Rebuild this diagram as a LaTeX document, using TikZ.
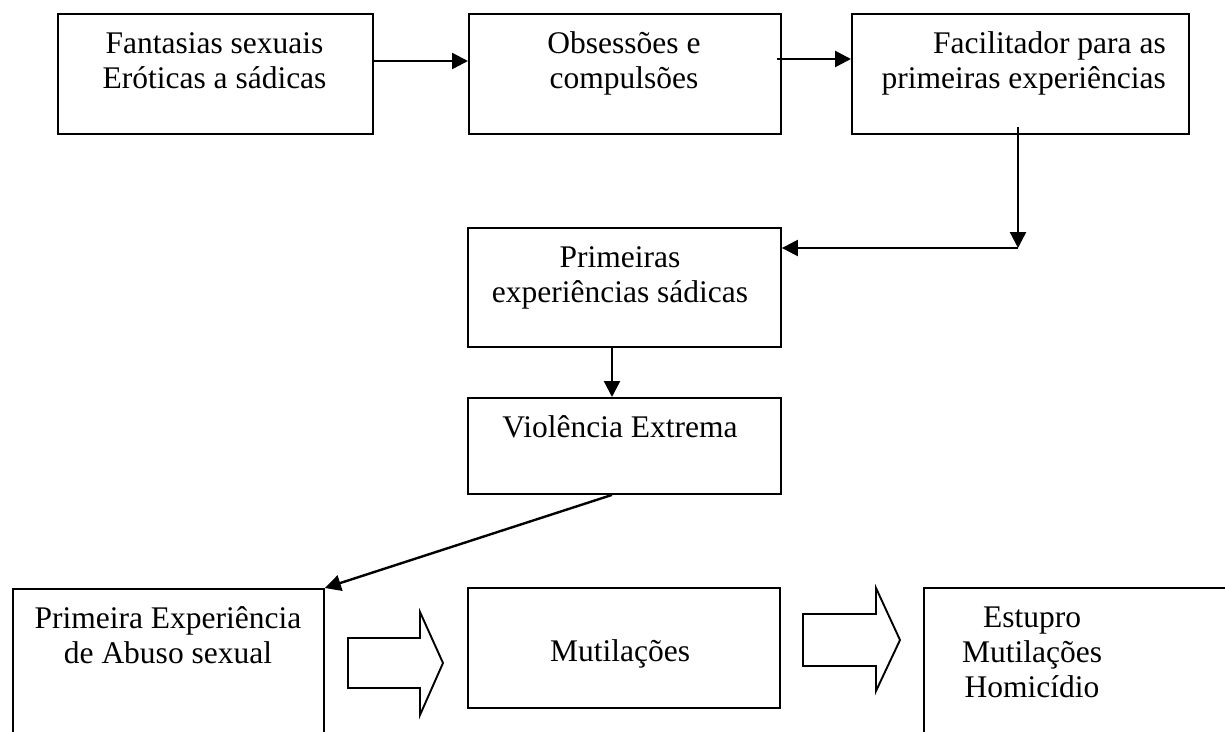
\documentclass[tikz,border=0pt]{standalone}
\usepackage{fontspec}
\setmainfont{Liberation Serif}
\usetikzlibrary{arrows.meta,calc}
\tikzset{
  box/.style={draw=black, line width=1.9pt, rectangle, inner sep=0pt, anchor=north west},
  txt/.style={inner sep=0pt, font=\fontsize{31.5}{35}\selectfont},
  arr/.style={line width=2.4pt, -{Triangle[length=16pt,width=16pt]}},
  blockarrow/.style={draw=black, line width=1.9pt, line join=miter, fill=white}
}
\newcommand{\lines}[2]{\begin{tabular}[t]{@{}#1@{}}#2\end{tabular}}
\begin{document}
\begin{tikzpicture}[x=1pt,y=-1pt]
\useasboundingbox (0,0) rectangle (1225,731);
\clip (0,0) rectangle (1225,731);
% boxes
\node[box, minimum width=315pt, minimum height=120pt] (b1) at (57,13) {};
\node[box, minimum width=312pt, minimum height=120pt] (b2) at (468,13) {};
\node[box, minimum width=337pt, minimum height=120pt] (b3) at (851,13) {};
\node[box, minimum width=313pt, minimum height=119pt] (b4) at (467,227) {};
\node[box, minimum width=313pt, minimum height=96pt] (b5) at (467,397) {};
\node[box, minimum width=311pt, minimum height=200pt] (b6) at (12,588) {};
\node[box, minimum width=312pt, minimum height=120pt] (b7) at (467,587) {};
\node[box, minimum width=340pt, minimum height=200pt] (b8) at (923,587) {};
% texts
\node[txt, anchor=base] (t1) at (214.5,53) {\lines{c}{Fantasias sexuais\\Eróticas a sádicas}};
\node[txt, anchor=base] (t2) at (624,53) {\lines{c}{Obsessões e\\compulsões}};
\node[txt, anchor=base east] (t3) at (1166,53) {\lines{r}{Facilitador para as\\primeiras experiências}};
\node[txt, anchor=base] (t4) at (620,267) {\lines{c}{Primeiras\\experiências sádicas}};
\node[txt, anchor=base] (t5) at (620,437) {Violência Extrema};
\node[txt, anchor=base] (t6) at (168,628) {\lines{c}{Primeira Experiência\\de Abuso sexual}};
\node[txt, anchor=base] (t7) at (620,661) {Mutilações};
\node[txt, anchor=base] (t8) at (1032,627) {\lines{c}{Estupro\\Mutilações\\Homicídio}};
% connectors
\draw[arr] (b1.east |- 0,61) -- (b2.west |- 0,61);
\coordinate (s2) at (777,59);
\draw[arr] (s2) -- (b3.west |- s2);
\coordinate (c1) at (1018,127);
\coordinate (c2) at (1018,248);
\draw[arr] (c1) -- (c2);
\draw[arr] (c2) -- (b4.east |- c2);
\draw[arr] (b4.south -| 612,0) -- (b5.north -| 612,0);
\draw[arr] (b5.south -| 612,0) -- (b6.north east);
% block arrows
\draw[blockarrow] (348,638) -- (420,638) -- (420,612) -- (443,663) -- (420,715) -- (420,688) -- (348,688) -- cycle;
\draw[blockarrow] (803,614) -- (876,614) -- (876,588) -- (900,640) -- (876,691) -- (876,666) -- (803,666) -- cycle;
\end{tikzpicture}
\end{document}
